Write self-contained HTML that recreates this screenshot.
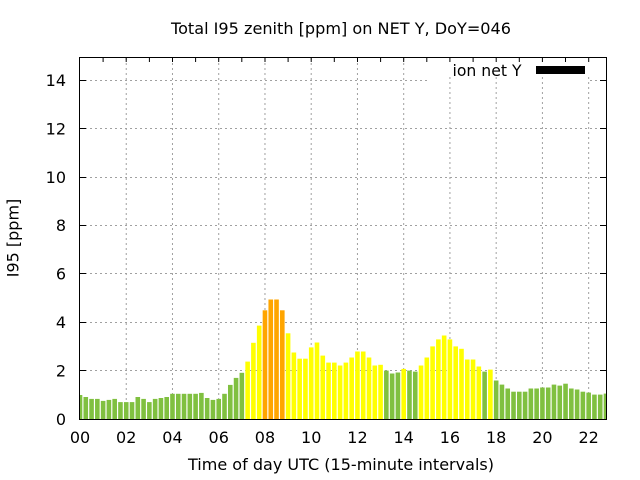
<!DOCTYPE html>
<html><head><meta charset="utf-8"><style>
html,body{margin:0;padding:0;background:#fff;}
svg{display:block;}
text{font-family:"DejaVu Sans","Liberation Sans",sans-serif;font-size:16px;fill:#000;}
</style></head><body>
<svg width="640" height="480" viewBox="0 0 640 480" xmlns="http://www.w3.org/2000/svg">
<rect x="0" y="0" width="640" height="480" fill="#fff"/>
<defs><clipPath id="pc"><rect x="80" y="58" width="526" height="361"/></clipPath></defs>
<g stroke="#a0a0a0" stroke-width="1" stroke-dasharray="2,3" fill="none">
<line x1="126.24" y1="58" x2="126.24" y2="419"/>
<line x1="172.48" y1="58" x2="172.48" y2="419"/>
<line x1="218.72" y1="58" x2="218.72" y2="419"/>
<line x1="264.97" y1="58" x2="264.97" y2="419"/>
<line x1="311.21" y1="58" x2="311.21" y2="419"/>
<line x1="357.45" y1="58" x2="357.45" y2="419"/>
<line x1="403.69" y1="58" x2="403.69" y2="419"/>
<line x1="449.93" y1="77" x2="449.93" y2="419"/>
<line x1="496.17" y1="77" x2="496.17" y2="419"/>
<line x1="542.42" y1="77" x2="542.42" y2="419"/>
<line x1="588.66" y1="77" x2="588.66" y2="419"/>
<line x1="80" y1="370.5" x2="606" y2="370.5"/>
<line x1="80" y1="322.5" x2="606" y2="322.5"/>
<line x1="80" y1="273.5" x2="606" y2="273.5"/>
<line x1="80" y1="225.5" x2="606" y2="225.5"/>
<line x1="80" y1="177.5" x2="606" y2="177.5"/>
<line x1="80" y1="128.5" x2="606" y2="128.5"/>
<line x1="80" y1="80.5" x2="427" y2="80.5"/>
<line x1="590" y1="80.5" x2="606" y2="80.5"/>
</g>
<g clip-path="url(#pc)">
<g fill="#80c040">
<rect x="77.7" y="395.0" width="4.6" height="24.0"/>
<rect x="83.48" y="397.0" width="4.6" height="22.0"/>
<rect x="89.26" y="398.9" width="4.6" height="20.1"/>
<rect x="95.04" y="398.9" width="4.6" height="20.1"/>
<rect x="100.82" y="400.9" width="4.6" height="18.1"/>
<rect x="106.60" y="399.9" width="4.6" height="19.1"/>
<rect x="112.38" y="398.9" width="4.6" height="20.1"/>
<rect x="118.16" y="402.1" width="4.6" height="16.9"/>
<rect x="123.94" y="402.1" width="4.6" height="16.9"/>
<rect x="129.72" y="402.1" width="4.6" height="16.9"/>
<rect x="135.50" y="397.0" width="4.6" height="22.0"/>
<rect x="141.28" y="398.9" width="4.6" height="20.1"/>
<rect x="147.06" y="402.1" width="4.6" height="16.9"/>
<rect x="152.84" y="398.9" width="4.6" height="20.1"/>
<rect x="158.62" y="398.0" width="4.6" height="21.0"/>
<rect x="164.40" y="397.0" width="4.6" height="22.0"/>
<rect x="170.18" y="393.8" width="4.6" height="25.2"/>
<rect x="175.96" y="393.8" width="4.6" height="25.2"/>
<rect x="181.74" y="393.8" width="4.6" height="25.2"/>
<rect x="187.52" y="393.8" width="4.6" height="25.2"/>
<rect x="193.30" y="393.8" width="4.6" height="25.2"/>
<rect x="199.08" y="392.9" width="4.6" height="26.1"/>
<rect x="204.86" y="398.0" width="4.6" height="21.0"/>
<rect x="210.64" y="399.9" width="4.6" height="19.1"/>
<rect x="216.42" y="398.9" width="4.6" height="20.1"/>
<rect x="222.21" y="393.8" width="4.6" height="25.2"/>
<rect x="227.99" y="384.9" width="4.6" height="34.1"/>
<rect x="233.77" y="377.9" width="4.6" height="41.1"/>
<rect x="239.55" y="372.8" width="4.6" height="46.2"/>
<rect x="384.05" y="370.6" width="4.6" height="48.4"/>
<rect x="389.83" y="373.5" width="4.6" height="45.5"/>
<rect x="395.61" y="372.5" width="4.6" height="46.5"/>
<rect x="407.17" y="370.6" width="4.6" height="48.4"/>
<rect x="412.95" y="371.6" width="4.6" height="47.4"/>
<rect x="482.31" y="371.6" width="4.6" height="47.4"/>
<rect x="493.87" y="380.5" width="4.6" height="38.5"/>
<rect x="499.65" y="384.6" width="4.6" height="34.4"/>
<rect x="505.43" y="388.5" width="4.6" height="30.5"/>
<rect x="511.22" y="391.7" width="4.6" height="27.3"/>
<rect x="517.00" y="391.7" width="4.6" height="27.3"/>
<rect x="522.78" y="391.7" width="4.6" height="27.3"/>
<rect x="528.56" y="388.5" width="4.6" height="30.5"/>
<rect x="534.34" y="388.5" width="4.6" height="30.5"/>
<rect x="540.12" y="387.5" width="4.6" height="31.5"/>
<rect x="545.90" y="387.5" width="4.6" height="31.5"/>
<rect x="551.68" y="384.6" width="4.6" height="34.4"/>
<rect x="557.46" y="385.6" width="4.6" height="33.4"/>
<rect x="563.24" y="383.7" width="4.6" height="35.3"/>
<rect x="569.02" y="388.5" width="4.6" height="30.5"/>
<rect x="574.80" y="389.5" width="4.6" height="29.5"/>
<rect x="580.58" y="391.7" width="4.6" height="27.3"/>
<rect x="586.36" y="392.6" width="4.6" height="26.4"/>
<rect x="592.14" y="394.6" width="4.6" height="24.4"/>
<rect x="597.92" y="394.6" width="4.6" height="24.4"/>
<rect x="603.70" y="393.6" width="4.6" height="25.4"/>
</g>
<g fill="#ffff00">
<rect x="245.33" y="361.6" width="4.6" height="57.4"/>
<rect x="251.11" y="342.8" width="4.6" height="76.2"/>
<rect x="256.89" y="325.6" width="4.6" height="93.4"/>
<rect x="285.79" y="333.3" width="4.6" height="85.7"/>
<rect x="291.57" y="352.5" width="4.6" height="66.5"/>
<rect x="297.35" y="358.7" width="4.6" height="60.3"/>
<rect x="303.13" y="358.7" width="4.6" height="60.3"/>
<rect x="308.91" y="347.4" width="4.6" height="71.6"/>
<rect x="314.69" y="342.5" width="4.6" height="76.5"/>
<rect x="320.47" y="355.6" width="4.6" height="63.4"/>
<rect x="326.25" y="362.6" width="4.6" height="56.4"/>
<rect x="332.03" y="362.6" width="4.6" height="56.4"/>
<rect x="337.81" y="365.5" width="4.6" height="53.5"/>
<rect x="343.59" y="362.6" width="4.6" height="56.4"/>
<rect x="349.37" y="357.5" width="4.6" height="61.5"/>
<rect x="355.15" y="351.5" width="4.6" height="67.5"/>
<rect x="360.93" y="351.5" width="4.6" height="67.5"/>
<rect x="366.71" y="357.5" width="4.6" height="61.5"/>
<rect x="372.49" y="365.5" width="4.6" height="53.5"/>
<rect x="378.27" y="364.8" width="4.6" height="54.2"/>
<rect x="401.39" y="368.9" width="4.6" height="50.1"/>
<rect x="418.73" y="365.5" width="4.6" height="53.5"/>
<rect x="424.51" y="357.5" width="4.6" height="61.5"/>
<rect x="430.29" y="346.4" width="4.6" height="72.6"/>
<rect x="436.07" y="339.4" width="4.6" height="79.6"/>
<rect x="441.85" y="335.5" width="4.6" height="83.5"/>
<rect x="447.63" y="339.4" width="4.6" height="79.6"/>
<rect x="453.41" y="346.4" width="4.6" height="72.6"/>
<rect x="459.19" y="348.8" width="4.6" height="70.2"/>
<rect x="464.97" y="359.5" width="4.6" height="59.5"/>
<rect x="470.75" y="359.5" width="4.6" height="59.5"/>
<rect x="476.53" y="366.5" width="4.6" height="52.5"/>
<rect x="488.09" y="369.6" width="4.6" height="49.4"/>
</g>
<g fill="#ffa500">
<rect x="262.67" y="310.3" width="4.6" height="108.7"/>
<rect x="268.45" y="299.5" width="4.6" height="119.5"/>
<rect x="274.23" y="299.5" width="4.6" height="119.5"/>
<rect x="280.01" y="310.3" width="4.6" height="108.7"/>
</g>
</g>
<rect x="427" y="58" width="163" height="18" fill="#fff"/>
<text x="452.5" y="76" textLength="69" lengthAdjust="spacingAndGlyphs">ion net Y</text>
<rect x="536" y="66" width="49" height="8" fill="#000"/>
<g stroke="#000" stroke-width="1">
<line x1="80" y1="370.5" x2="86" y2="370.5"/>
<line x1="80" y1="322.5" x2="86" y2="322.5"/>
<line x1="80" y1="273.5" x2="86" y2="273.5"/>
<line x1="80" y1="225.5" x2="86" y2="225.5"/>
<line x1="80" y1="177.5" x2="86" y2="177.5"/>
<line x1="80" y1="128.5" x2="86" y2="128.5"/>
<line x1="80" y1="80.5" x2="86" y2="80.5"/>
<line x1="600" y1="370.5" x2="606" y2="370.5"/>
<line x1="600" y1="322.5" x2="606" y2="322.5"/>
<line x1="600" y1="273.5" x2="606" y2="273.5"/>
<line x1="600" y1="225.5" x2="606" y2="225.5"/>
<line x1="600" y1="177.5" x2="606" y2="177.5"/>
<line x1="600" y1="128.5" x2="606" y2="128.5"/>
<line x1="600" y1="80.5" x2="606" y2="80.5"/>
<line x1="103.1" y1="58" x2="103.1" y2="62"/>
<line x1="126.2" y1="58" x2="126.2" y2="62"/>
<line x1="149.4" y1="58" x2="149.4" y2="62"/>
<line x1="172.5" y1="58" x2="172.5" y2="62"/>
<line x1="195.6" y1="58" x2="195.6" y2="62"/>
<line x1="218.7" y1="58" x2="218.7" y2="62"/>
<line x1="241.8" y1="58" x2="241.8" y2="62"/>
<line x1="265.0" y1="58" x2="265.0" y2="62"/>
<line x1="288.1" y1="58" x2="288.1" y2="62"/>
<line x1="311.2" y1="58" x2="311.2" y2="62"/>
<line x1="334.3" y1="58" x2="334.3" y2="62"/>
<line x1="357.5" y1="58" x2="357.5" y2="62"/>
<line x1="380.6" y1="58" x2="380.6" y2="62"/>
<line x1="403.7" y1="58" x2="403.7" y2="62"/>
<line x1="426.8" y1="58" x2="426.8" y2="62"/>
<line x1="449.9" y1="58" x2="449.9" y2="62"/>
<line x1="473.1" y1="58" x2="473.1" y2="62"/>
<line x1="496.2" y1="58" x2="496.2" y2="62"/>
<line x1="519.3" y1="58" x2="519.3" y2="62"/>
<line x1="542.4" y1="58" x2="542.4" y2="62"/>
<line x1="565.5" y1="58" x2="565.5" y2="62"/>
<line x1="588.7" y1="58" x2="588.7" y2="62"/>
</g>
<rect x="79.5" y="57.5" width="527" height="362" fill="none" stroke="#000" stroke-width="1"/>
<g text-anchor="end">
<text x="66" y="425">0</text>
<text x="66" y="376.5">2</text>
<text x="66" y="328">4</text>
<text x="66" y="279.5">6</text>
<text x="66" y="231">8</text>
<text x="66" y="183">10</text>
<text x="66" y="134.5">12</text>
<text x="66" y="86">14</text>
</g>
<g text-anchor="middle">
<text x="80" y="443">00</text>
<text x="126.24" y="443">02</text>
<text x="172.48" y="443">04</text>
<text x="218.72" y="443">06</text>
<text x="264.97" y="443">08</text>
<text x="311.21" y="443">10</text>
<text x="357.45" y="443">12</text>
<text x="403.69" y="443">14</text>
<text x="449.93" y="443">16</text>
<text x="496.17" y="443">18</text>
<text x="542.42" y="443">20</text>
<text x="588.66" y="443">22</text>
</g>
<text x="171" y="34" textLength="340" lengthAdjust="spacingAndGlyphs">Total I95 zenith [ppm] on NET Y, DoY=046</text>
<text x="188" y="470" textLength="306" lengthAdjust="spacingAndGlyphs">Time of day UTC (15-minute intervals)</text>
<text x="18.3" y="238" text-anchor="middle" transform="rotate(-90 18.3 238)">I95 [ppm]</text>
</svg>
</body></html>
